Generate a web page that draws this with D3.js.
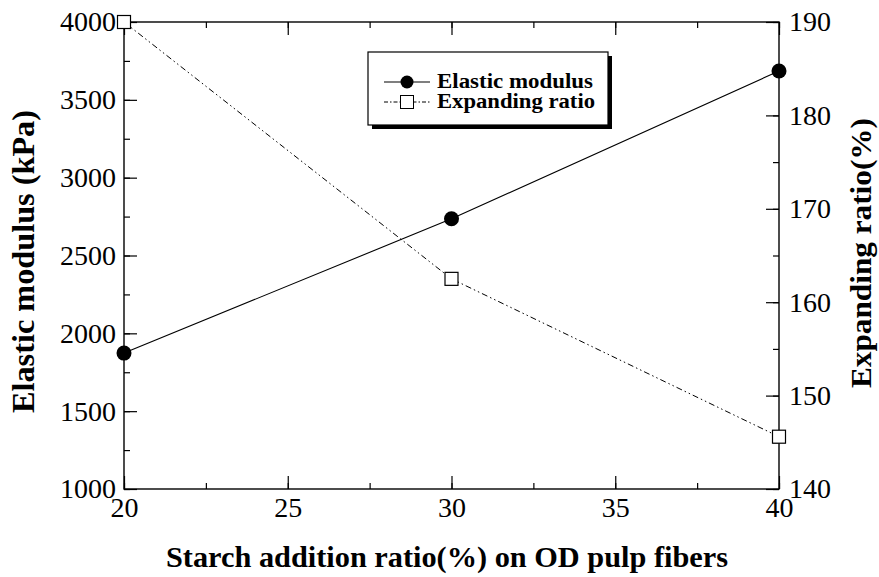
<!DOCTYPE html>
<html><head><meta charset="utf-8">
<script src="https://cdn.jsdelivr.net/npm/d3@7"></script>
<style>body{margin:0;background:#fff}</style>
</head><body>
<svg id="c" width="879" height="577"></svg>
<script>
const xValues = [20, 30, 40];
const elasticModulus = [1873, 2736, 3685];
const expandingRatio = [190, 162.5, 145.6];
const xTicks = [20, 25, 30, 35, 40];
const yLeftTicks = [1000, 1500, 2000, 2500, 3000, 3500, 4000];
const yRightTicks = [140, 150, 160, 170, 180, 190];
const seriesNames = ["Elastic modulus", "Expanding ratio"];
const xTitle = "Starch addition ratio(%) on OD pulp fibers";
const yLeftTitle = "Elastic modulus (kPa)";
const yRightTitle = "Expanding ratio(%)";

const L = 124, R = 779, T = 22, B = 489;
const svg = d3.select("#c");
const font = "'Liberation Serif','Times New Roman',serif";
const x = d3.scaleLinear().domain([20, 40]).range([L, R]);
const yl = d3.scaleLinear().domain([1000, 4000]).range([B, T]);
const yr = d3.scaleLinear().domain([140, 190]).range([B, T]);

function styleAxis(g){
  g.select(".domain").remove();
  g.selectAll("line").attr("stroke","#000").attr("stroke-width",1.2);
  g.selectAll("text").attr("font-family",font).attr("font-size",28).attr("fill","#000");
}
svg.append("rect").attr("x",L).attr("y",T).attr("width",R-L).attr("height",B-T)
  .attr("fill","none").attr("stroke","#000").attr("stroke-width",1.4);

const xMinor = d3.range(20, 40.01, 2.5);
svg.append("g").attr("transform",`translate(0,${B})`)
  .call(d3.axisBottom(x).tickValues(xMinor).tickSize(-6).tickFormat(""))
  .call(styleAxis);
svg.append("g").attr("transform",`translate(0,${B})`)
  .call(d3.axisBottom(x).tickValues(xTicks).tickSize(-13).tickPadding(8).tickFormat(d3.format("d")))
  .call(styleAxis);
svg.append("g").attr("transform",`translate(0,${T})`)
  .call(d3.axisTop(x).tickValues(xMinor).tickSize(-6).tickFormat(""))
  .call(styleAxis);
svg.append("g").attr("transform",`translate(0,${T})`)
  .call(d3.axisTop(x).tickValues(xTicks).tickSize(-13).tickFormat(""))
  .call(styleAxis);
const ylMinor = d3.range(1000, 4000.1, 250);
svg.append("g").attr("transform",`translate(${L},0)`)
  .call(d3.axisLeft(yl).tickValues(ylMinor).tickSize(-6).tickFormat(""))
  .call(styleAxis);
svg.append("g").attr("transform",`translate(${L},0)`)
  .call(d3.axisLeft(yl).tickValues(yLeftTicks).tickSize(-13).tickPadding(8).tickFormat(d3.format("d")))
  .call(styleAxis);
const yrMinor = d3.range(140, 190.1, 5);
svg.append("g").attr("transform",`translate(${R},0)`)
  .call(d3.axisRight(yr).tickValues(yrMinor).tickSize(-6).tickFormat(""))
  .call(styleAxis);
svg.append("g").attr("transform",`translate(${R},0)`)
  .call(d3.axisRight(yr).tickValues(yRightTicks).tickSize(-13).tickPadding(10).tickFormat(d3.format("d")))
  .call(styleAxis);

const lineE = d3.line().x((d,i)=>x(xValues[i])).y(d=>yl(d));
const lineR = d3.line().x((d,i)=>x(xValues[i])).y(d=>yr(d));
svg.append("path").datum(elasticModulus).attr("d",lineE)
  .attr("fill","none").attr("stroke","#000").attr("stroke-width",1.1);
svg.append("path").datum(expandingRatio).attr("d",lineR)
  .attr("fill","none").attr("stroke","#000").attr("stroke-width",1)
  .attr("stroke-dasharray","6,3,1.5,3,1.5,3");
svg.selectAll(".pe").data(elasticModulus).enter().append("circle")
  .attr("cx",(d,i)=>x(xValues[i])).attr("cy",d=>yl(d)).attr("r",7.5).attr("fill","#000");
svg.selectAll(".pr").data(expandingRatio).enter().append("rect")
  .attr("x",(d,i)=>x(xValues[i])-6.5).attr("y",d=>yr(d)-6.5).attr("width",13).attr("height",13)
  .attr("fill","#fff").attr("stroke","#000").attr("stroke-width",1.2);

const lg = svg.append("g");
lg.append("rect").attr("x",372).attr("y",56).attr("width",240).attr("height",73).attr("fill","#000");
lg.append("rect").attr("x",368).attr("y",52).attr("width",240).attr("height",73)
  .attr("fill","#fff").attr("stroke","#000").attr("stroke-width",1.2);
const rows = [82, 102];
const textLens = [156, 158];
lg.append("line").attr("x1",384).attr("x2",430).attr("y1",rows[0]).attr("y2",rows[0]).attr("stroke","#000").attr("stroke-width",1.1);
lg.append("circle").attr("cx",407).attr("cy",rows[0]).attr("r",6.5).attr("fill","#000");
lg.append("line").attr("x1",384).attr("x2",430).attr("y1",rows[1]).attr("y2",rows[1]).attr("stroke","#000").attr("stroke-width",1)
  .attr("stroke-dasharray","4,2,1.5,2");
lg.append("rect").attr("x",400.5).attr("y",rows[1]-6.5).attr("width",13).attr("height",13).attr("fill","#fff").attr("stroke","#000");
seriesNames.forEach((n,i)=>{
  lg.append("text").attr("x",437).attr("y",rows[i]+6).text(n)
    .attr("textLength",textLens[i]).attr("lengthAdjust","spacingAndGlyphs")
    .attr("font-family",font).attr("font-weight","bold").attr("font-size",20);
});

svg.append("text").attr("x",447).attr("y",567).attr("text-anchor","middle")
  .attr("textLength",562).attr("lengthAdjust","spacingAndGlyphs")
  .attr("font-family",font).attr("font-weight","bold").attr("font-size",30).text(xTitle);
svg.append("text").attr("transform",`translate(34,261.5) rotate(-90)`).attr("text-anchor","middle")
  .attr("textLength",303).attr("lengthAdjust","spacingAndGlyphs")
  .attr("font-family",font).attr("font-weight","bold").attr("font-size",31).text(yLeftTitle);
svg.append("text").attr("transform",`translate(871,253) rotate(-90)`).attr("text-anchor","middle")
  .attr("textLength",270).attr("lengthAdjust","spacingAndGlyphs")
  .attr("font-family",font).attr("font-weight","bold").attr("font-size",30).text(yRightTitle);
</script>
</body></html>
